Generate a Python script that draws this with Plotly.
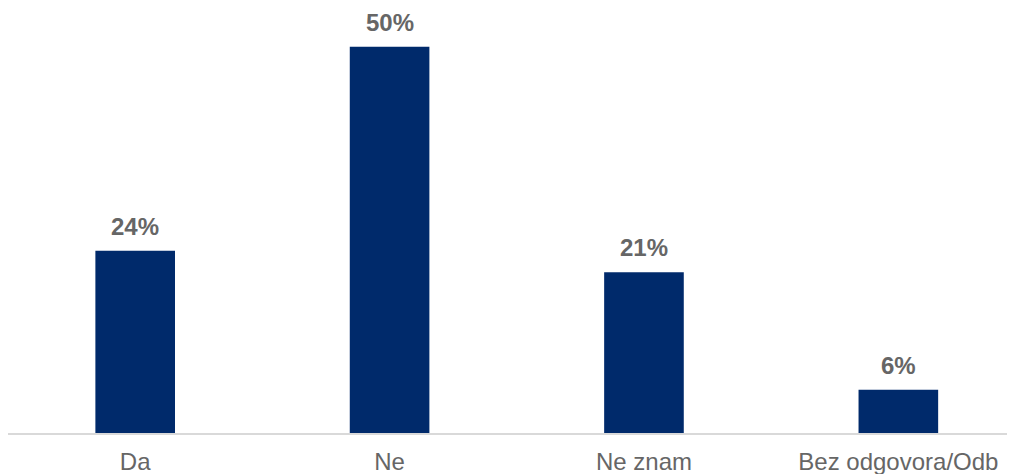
import plotly.graph_objects as go

categories = ["Da", "Ne", "Ne znam", "Bez odgovora/Odb"]
values = [23.6, 50.0, 20.8, 5.6]
labels = ["24%", "50%", "21%", "6%"]

bar_color = "#002A6B"
text_color = "#666666"
font_family = "Liberation Sans, Arial, sans-serif"

fig = go.Figure()
fig.add_trace(go.Bar(
    x=categories,
    y=values,
    width=0.313,
    marker=dict(color=bar_color, line=dict(width=0)),
    hoverinfo="skip",
))

for c, v, t in zip(categories, values, labels):
    fig.add_annotation(
        x=c, y=v, text="<b>" + t + "</b>", showarrow=False,
        yanchor="bottom", yshift=9,
        font=dict(family=font_family, size=24, color=text_color),
    )

fig.update_layout(
    width=1015, height=474,
    margin=dict(l=0, r=0, t=0, b=49),
    paper_bgcolor="white", plot_bgcolor="white",
    showlegend=False,
    xaxis=dict(
        type="category",
        range=[-0.5, 3.49],
        showline=True, linecolor="#D9D9D9", linewidth=1.5,
        showgrid=False, ticks="",
        ticklabelstandoff=6,
        tickfont=dict(family=font_family, size=24, color=text_color),
    ),
    yaxis=dict(
        range=[0, 55.0],
        visible=False, showgrid=False, zeroline=False,
    ),
)

fig.write_html("out.html")
